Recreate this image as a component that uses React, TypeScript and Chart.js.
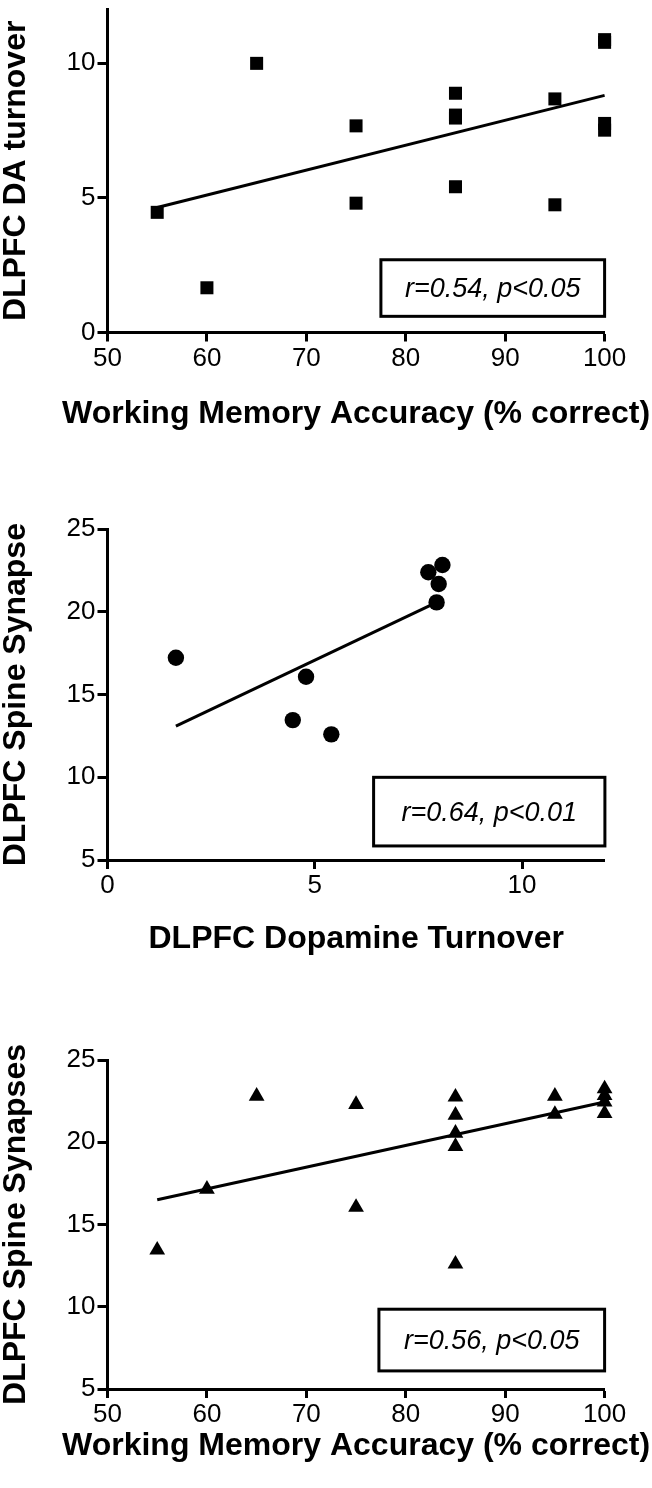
import React, { useEffect, useRef } from "react";
import { Chart, registerables } from "chart.js";

Chart.register(...registerables);

const FONT = '"Liberation Sans", Arial, Helvetica, sans-serif';
const W = 652;

// ---------- Panel A: working memory vs DA turnover ----------
const wmAccuracyA = [55, 60, 65, 75, 75, 85, 85, 85, 85, 95, 95, 100, 100, 100, 100];
const daTurnoverA = [4.46, 1.66, 9.99, 7.67, 4.8, 8.88, 8.07, 7.96, 5.41, 8.67, 4.74, 10.87, 10.77, 7.76, 7.51];
const fitXA = [55, 100];
const fitYA = [4.64, 8.8];
const xTicksA = [50, 60, 70, 80, 90, 100];
const yTicksA = [0, 5, 10];
const xRangeA = [50, 100];
const yRangeA = [0, 12];
const statA = "r=0.54, p<0.05";
const statBoxXA = [77.5, 100];
const statBoxYA = [0.6, 2.7];
const xTitleA = "Working Memory Accuracy (% correct)";
const yTitleA = "DLPFC DA turnover";

// ---------- Panel B: DA turnover vs spine synapses ----------
const daTurnoverB = [1.65, 4.79, 4.47, 5.4, 7.74, 8.08, 7.99, 7.94];
const spineB = [17.23, 16.08, 13.46, 12.6, 22.4, 22.84, 21.69, 20.58];
const fitXB = [1.65, 8.08];
const fitYB = [13.1, 20.75];
const xTicksB = [0, 5, 10];
const yTicksB = [5, 10, 15, 20, 25];
const xRangeB = [0, 12];
const yRangeB = [5, 25];
const statB = "r=0.64, p<0.01";
const statBoxXB = [6.42, 12];
const statBoxYB = [5.85, 10.0];
const xTitleB = "DLPFC Dopamine Turnover";
const yTitleB = "DLPFC Spine Synapse";

// ---------- Panel C: working memory vs spine synapses ----------
const wmAccuracyC = [55, 60, 65, 75, 75, 85, 85, 85, 85, 85, 95, 95, 100, 100, 100, 100];
const spineC = [13.45, 17.15, 22.8, 22.3, 16.05, 22.75, 21.65, 20.55, 19.75, 12.6, 22.8, 21.7, 23.25, 22.85, 22.45, 21.75];
const fitXC = [55, 100];
const fitYC = [16.5, 22.45];
const xTicksC = [50, 60, 70, 80, 90, 100];
const yTicksC = [5, 10, 15, 20, 25];
const xRangeC = [50, 100];
const yRangeC = [5, 25];
const statC = "r=0.56, p<0.05";
const statBoxXC = [77.3, 100];
const statBoxYC = [6.1, 9.85];
const xTitleC = "Working Memory Accuracy (% correct)";
const yTitleC = "DLPFC Spine Synapses";

type Panel = {
  xs: number[];
  ys: number[];
  fitX: number[];
  fitY: number[];
  xTicks: number[];
  yTicks: number[];
  xRange: number[];
  yRange: number[];
  stat: string;
  boxX: number[];
  boxY: number[];
  xTitle: string;
  yTitle: string;
  pointStyle: string;
  radius: number;
  height: number;
  padTop: number;
  padRight: number;
  yAxisWidth: number;
  xAxisHeight: number;
  xTitleBaseline: number;
  yTitleBaseline: number;
};

const panels: Panel[] = [
  {
    xs: wmAccuracyA, ys: daTurnoverA, fitX: fitXA, fitY: fitYA,
    xTicks: xTicksA, yTicks: yTicksA, xRange: xRangeA, yRange: yRangeA,
    stat: statA, boxX: statBoxXA, boxY: statBoxYA, xTitle: xTitleA, yTitle: yTitleA,
    pointStyle: "rect", radius: 9.2,
    height: 440, padTop: 1.2, padRight: 47.4, yAxisWidth: 107.5, xAxisHeight: 107.5,
    xTitleBaseline: 423, yTitleBaseline: 25,
  },
  {
    xs: daTurnoverB, ys: spineB, fitX: fitXB, fitY: fitYB,
    xTicks: xTicksB, yTicks: yTicksB, xRange: xRangeB, yRange: yRangeB,
    stat: statB, boxX: statBoxXB, boxY: statBoxYB, xTitle: xTitleB, yTitle: yTitleB,
    pointStyle: "circle", radius: 8.2,
    height: 520, padTop: 89.3, padRight: 47.1, yAxisWidth: 107.5, xAxisHeight: 100,
    xTitleBaseline: 508, yTitleBaseline: 25,
  },
  {
    xs: wmAccuracyC, ys: spineC, fitX: fitXC, fitY: fitYC,
    xTicks: xTicksC, yTicks: yTicksC, xRange: xRangeC, yRange: yRangeC,
    stat: statC, boxX: statBoxXC, boxY: statBoxYC, xTitle: xTitleC, yTitle: yTitleC,
    pointStyle: "triangle", radius: 9.1,
    height: 528, padTop: 100, padRight: 47.4, yAxisWidth: 107.5, xAxisHeight: 99,
    xTitleBaseline: 495, yTitleBaseline: 25,
  },
];

function textPlugin(p: Panel) {
  return {
    id: "panelText",
    afterDraw(chart: any) {
      const ctx = chart.ctx as CanvasRenderingContext2D;
      const { left, right, top, bottom } = chart.chartArea;
      const xs = chart.scales.x;
      const ys = chart.scales.y;
      ctx.save();
      ctx.fillStyle = "#000";
      ctx.strokeStyle = "#000";
      ctx.font = `bold 32px ${FONT}`;
      ctx.textAlign = "center";
      ctx.textBaseline = "alphabetic";
      ctx.fillText(p.xTitle, (left + right) / 2, p.xTitleBaseline);
      ctx.save();
      ctx.translate(p.yTitleBaseline, (top + bottom) / 2);
      ctx.rotate(-Math.PI / 2);
      ctx.fillText(p.yTitle, 0, 0);
      ctx.restore();

      const bx0 = xs.getPixelForValue(p.boxX[0]);
      const bx1 = xs.getPixelForValue(p.boxX[1]);
      const by0 = ys.getPixelForValue(p.boxY[0]);
      const by1 = ys.getPixelForValue(p.boxY[1]);
      ctx.lineWidth = 3;
      ctx.strokeRect(bx0, by1, bx1 - bx0, by0 - by1);
      ctx.font = `italic 27px ${FONT}`;
      ctx.textBaseline = "middle";
      ctx.fillText(p.stat, (bx0 + bx1) / 2, (by0 + by1) / 2 + 1.5);
      ctx.restore();
    },
  };
}

function axisCommon() {
  return {
    type: "linear" as const,
    grid: {
      display: true,
      drawOnChartArea: false,
      drawTicks: true,
      tickLength: 9,
      tickWidth: 3,
      tickColor: "#000",
      color: "#000",
    },
    border: { display: true, color: "#000", width: 3 },
  };
}

function buildConfig(p: Panel): any {
  return {
    type: "scatter",
    data: {
      datasets: [
        {
          type: "line",
          data: p.fitX.map((x, i) => ({ x, y: p.fitY[i] })),
          borderColor: "#000",
          borderWidth: 3,
          pointRadius: 0,
          fill: false,
          tension: 0,
          clip: false,
          order: 2,
        },
        {
          data: p.xs.map((x, i) => ({ x, y: p.ys[i] })),
          pointStyle: p.pointStyle,
          pointRadius: p.radius,
          pointBackgroundColor: "#000",
          pointBorderColor: "#000",
          pointBorderWidth: 0,
          showLine: false,
          clip: false,
          order: 1,
        },
      ],
    },
    options: {
      animation: false,
      responsive: false,
      devicePixelRatio: 1,
      events: [],
      layout: { padding: { top: p.padTop, right: p.padRight, left: 0, bottom: 0 } },
      plugins: { legend: { display: false }, tooltip: { enabled: false } },
      scales: {
        x: {
          ...axisCommon(),
          position: "bottom",
          min: p.xRange[0],
          max: p.xRange[1],
          afterBuildTicks: (s: any) => {
            s.ticks = p.xTicks.map((v) => ({ value: v }));
          },
          afterFit: (s: any) => {
            s.height = p.xAxisHeight;
            s.paddingLeft = 0;
            s.paddingRight = 0;
            s.paddingTop = 0;
            s.paddingBottom = 0;
          },
          ticks: {
            autoSkip: false,
            maxRotation: 0,
            padding: 1.5,
            color: "#000",
            font: { family: FONT, size: 26 },
          },
        },
        y: {
          ...axisCommon(),
          position: "left",
          min: p.yRange[0],
          max: p.yRange[1],
          afterBuildTicks: (s: any) => {
            s.ticks = p.yTicks.map((v) => ({ value: v }));
          },
          afterFit: (s: any) => {
            s.width = p.yAxisWidth;
            s.paddingLeft = 0;
            s.paddingRight = 0;
            s.paddingTop = 0;
            s.paddingBottom = 0;
          },
          ticks: {
            autoSkip: false,
            padding: 2,
            color: "#000",
            font: { family: FONT, size: 26 },
          },
          grid: { ...axisCommon().grid, tickLength: 10 },
        },
      },
    },
    plugins: [textPlugin(p)],
  };
}

function PanelChart({ spec }: { spec: Panel }) {
  const ref = useRef<HTMLCanvasElement>(null);
  useEffect(() => {
    if (!ref.current) return;
    const chart = new Chart(ref.current, buildConfig(spec));
    return () => chart.destroy();
  }, [spec]);
  return (
    <canvas
      ref={ref}
      width={W}
      height={spec.height}
      style={{ display: "block", width: W + "px", height: spec.height + "px" }}
    />
  );
}

export default function App() {
  useEffect(() => {
    document.body.style.margin = "0";
    document.body.style.background = "#fff";
  }, []);
  return (
    <div style={{ width: W, background: "#fff" }}>
      {panels.map((p, i) => (
        <PanelChart key={i} spec={p} />
      ))}
    </div>
  );
}
